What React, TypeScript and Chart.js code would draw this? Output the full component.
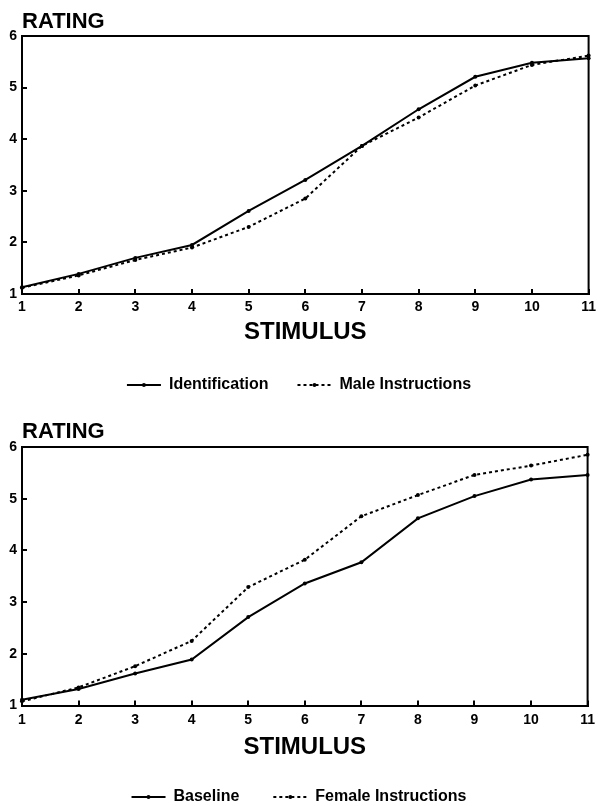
import React, { useEffect, useRef } from "react";
import { Chart, registerables } from "chart.js";

Chart.register(...registerables);

// ---------- data ----------
const stimulus = ["1", "2", "3", "4", "5", "6", "7", "8", "9", "10", "11"];
const identification = [1.13, 1.39, 1.7, 1.95, 2.61, 3.21, 3.87, 4.58, 5.21, 5.48, 5.57];
const maleInstructions = [1.12, 1.36, 1.66, 1.9, 2.3, 2.85, 3.87, 4.42, 5.04, 5.44, 5.62];
const baseline = [1.11, 1.32, 1.62, 1.89, 2.71, 3.36, 3.77, 4.62, 5.05, 5.37, 5.46];
const femaleInstructions = [1.08, 1.35, 1.76, 2.25, 3.29, 3.82, 4.66, 5.07, 5.46, 5.64, 5.85];
const topSeriesNames = ["Identification", "Male Instructions"];
const bottomSeriesNames = ["Baseline", "Female Instructions"];
const yTitle = "RATING";
const xTitle = "STIMULUS";
const yMin = 1;
const yMax = 6;

const FONT = "'Liberation Sans', Arial, Helvetica, sans-serif";

type Panel = {
  height: number;
  areaTop: number;
  padBottom: number;
  xScaleHeight: number;
  tickPad: number;
  titlePadBottom: number;
  legendPad: number;
  boxWidth: number;
  ratingBaseline: number;
};

const topPanel: Panel = {
  height: 410,
  areaTop: 36,
  padBottom: 7,
  xScaleHeight: 54,
  tickPad: 10,
  titlePadBottom: 1,
  legendPad: 29,
  boxWidth: 34,
  ratingBaseline: 28,
};

const bottomPanel: Panel = {
  height: 420,
  areaTop: 47,
  padBottom: 5,
  xScaleHeight: 49.5,
  tickPad: 11,
  titlePadBottom: -7,
  legendPad: 34,
  boxWidth: 34,
  ratingBaseline: 38,
};

const decorPlugin = {
  id: "decor",
  afterDraw(chart: any, _args: any, opts: any) {
    const { ctx, chartArea: a } = chart;
    ctx.save();
    // frame top and right
    ctx.strokeStyle = "#000";
    ctx.lineWidth = 2;
    ctx.setLineDash([]);
    ctx.beginPath();
    ctx.moveTo(a.left, a.top);
    ctx.lineTo(a.right, a.top);
    ctx.lineTo(a.right, a.bottom);
    ctx.stroke();
    // y title
    ctx.fillStyle = "#000";
    ctx.font = `bold 22px ${FONT}`;
    ctx.textAlign = "left";
    ctx.textBaseline = "alphabetic";
    ctx.fillText(opts.title, a.left, opts.baseline);
    // legend markers
    const lg = chart.legend;
    if (lg && lg.legendHitBoxes) {
      lg.legendHitBoxes.forEach((hb: any) => {
        ctx.beginPath();
        ctx.arc(hb.left + opts.boxWidth / 2, hb.top + 8, 2, 0, Math.PI * 2);
        ctx.fill();
      });
    }
    ctx.restore();
  },
};

function makeConfig(names: string[], solid: number[], dashed: number[], p: Panel): any {
  return {
    type: "line",
    data: {
      labels: stimulus,
      datasets: [
        {
          label: names[0],
          data: solid,
          borderColor: "#000",
          backgroundColor: "#000",
          borderWidth: 2,
          pointRadius: 2,
          pointBorderWidth: 0,
          pointBackgroundColor: "#000",
          tension: 0,
          fill: false,
        },
        {
          label: names[1],
          data: dashed,
          borderColor: "#000",
          backgroundColor: "#000",
          borderWidth: 2,
          borderDash: [3, 3],
          pointRadius: 2,
          pointBorderWidth: 0,
          pointBackgroundColor: "#000",
          tension: 0,
          fill: false,
        },
      ],
    },
    options: {
      animation: false,
      responsive: false,
      maintainAspectRatio: false,
      layout: { padding: { top: p.areaTop, left: 0, right: 8, bottom: p.padBottom } },
      scales: {
        x: {
          type: "category",
          offset: false,
          grid: {
            display: true,
            drawOnChartArea: false,
            drawTicks: true,
            tickLength: -5,
            color: "#000",
            lineWidth: 2,
          },
          border: { display: true, color: "#000", width: 2 },
          ticks: {
            color: "#000",
            padding: p.tickPad,
            maxRotation: 0,
            autoSkip: false,
            font: { family: FONT, size: 14, weight: "bold" },
          },
          title: {
            display: true,
            text: xTitle,
            color: "#000",
            font: { family: FONT, size: 24, weight: "bold", lineHeight: 1.2 },
            padding: { top: 0, bottom: p.titlePadBottom },
          },
          afterFit(scale: any) {
            scale.height = p.xScaleHeight;
          },
        },
        y: {
          type: "linear",
          min: yMin,
          max: yMax,
          grid: {
            display: true,
            drawOnChartArea: false,
            drawTicks: true,
            tickLength: -5,
            color: "#000",
            lineWidth: 2,
          },
          border: { display: true, color: "#000", width: 2 },
          ticks: {
            stepSize: 1,
            color: "#000",
            padding: 10,
            font: { family: FONT, size: 14, weight: "bold" },
          },
          afterFit(scale: any) {
            scale.width = 22;
          },
        },
      },
      plugins: {
        legend: {
          display: true,
          position: "bottom",
          labels: {
            color: "#000",
            usePointStyle: true,
            pointStyle: "line",
            pointStyleWidth: p.boxWidth,
            boxWidth: p.boxWidth,
            padding: p.legendPad,
            font: { family: FONT, size: 16, weight: "bold" },
            generateLabels: (chart: any) =>
              chart.data.datasets.map((ds: any, i: number) => ({
                text: ds.label,
                fillStyle: "#000",
                strokeStyle: "#000",
                fontColor: "#000",
                lineWidth: 2,
                lineDash: ds.borderDash || [],
                lineCap: "butt",
                pointStyle: "line",
                hidden: false,
                datasetIndex: i,
              })),
          },
        },
        tooltip: { enabled: false },
        decor: { title: yTitle, baseline: p.ratingBaseline, boxWidth: p.boxWidth },
      },
    },
    plugins: [decorPlugin],
  };
}

function ChartPanel(props: { names: string[]; solid: number[]; dashed: number[]; panel: Panel; top: number }) {
  const ref = useRef<HTMLCanvasElement | null>(null);
  useEffect(() => {
    if (!ref.current) return;
    const chart = new Chart(ref.current, makeConfig(props.names, props.solid, props.dashed, props.panel));
    return () => chart.destroy();
  }, []);
  return (
    <canvas
      ref={ref}
      width={606}
      height={props.panel.height}
      style={{ position: "absolute", left: 0, top: props.top, width: 606, height: props.panel.height, display: "block" }}
    />
  );
}

export default function App() {
  return (
    <div
      style={{
        position: "absolute",
        left: 0,
        top: 0,
        width: 606,
        height: 806,
        overflow: "hidden",
        background: "#fff",
      }}
    >
      <ChartPanel names={topSeriesNames} solid={identification} dashed={maleInstructions} panel={topPanel} top={0} />
      <ChartPanel names={bottomSeriesNames} solid={baseline} dashed={femaleInstructions} panel={bottomPanel} top={400} />
    </div>
  );
}
